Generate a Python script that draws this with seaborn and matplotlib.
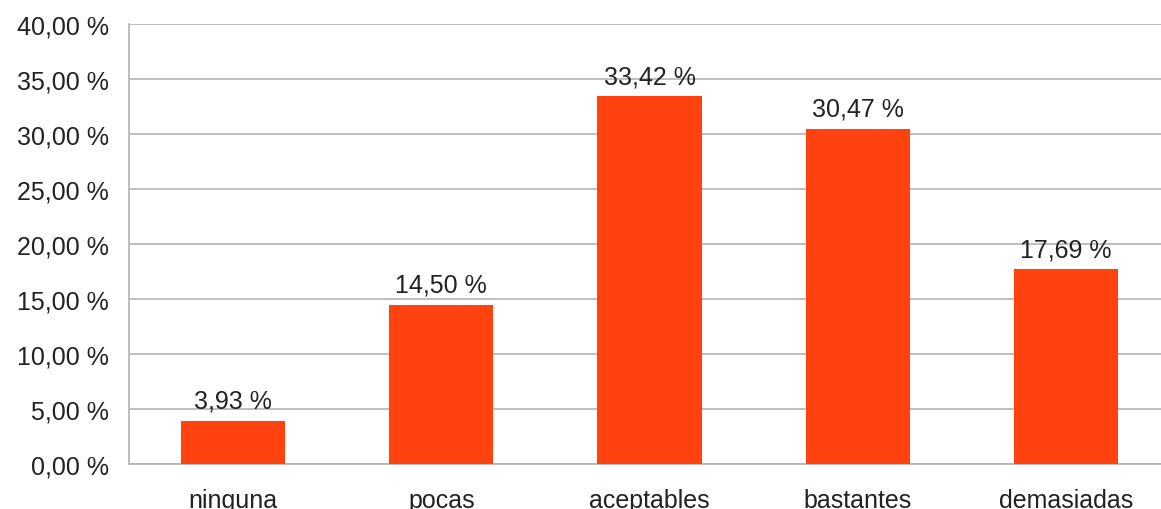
import matplotlib
matplotlib.use("Agg")
import matplotlib.pyplot as plt
import seaborn as sns
import pandas as pd
from matplotlib.ticker import FuncFormatter, FixedLocator

# Datos del gráfico
categorias = ["ninguna", "pocas", "aceptables", "bastantes", "demasiadas"]
porcentajes = [3.93, 14.50, 33.42, 30.47, 17.69]
yticks = [0, 5, 10, 15, 20, 25, 30, 35, 40]

df = pd.DataFrame({"categoria": categorias, "porcentaje": porcentajes})

sns.set_style("white")
plt.rcParams['font.family'] = ['Liberation Sans', 'DejaVu Sans']

fig = plt.figure(figsize=(11.61, 5.10), dpi=100)
ax = fig.add_axes([129/1161, 45/510, (1170-129)/1161, 440/510])

sns.barplot(data=df, x="categoria", y="porcentaje", color="#ff420e",
            width=0.5, saturation=1, ax=ax, zorder=3, linewidth=0)

gris = "#b3b3b3"
ax.set_ylim(0, 40)
ax.set_xlim(-0.5, 4.5)
ax.set_yticks(yticks)
ax.yaxis.set_major_formatter(FuncFormatter(lambda v, p: f"{v:.2f}".replace(".", ",") + " %"))
ax.grid(axis="y", color=gris, linewidth=1.2, zorder=0)
ax.set_axisbelow(True)

for s in ["top", "right"]:
    ax.spines[s].set_visible(False)
for s in ["left", "bottom"]:
    ax.spines[s].set_color(gris)
    ax.spines[s].set_linewidth(1.2)

ax.tick_params(axis="y", length=8.6, width=1.2, color=gris, pad=6,
               labelsize=18, labelcolor="#222222")
ax.tick_params(axis="x", which="major", length=0, pad=17,
               labelsize=18, labelcolor="#222222")
ax.xaxis.set_minor_locator(FixedLocator([-0.5, 0.5, 1.5, 2.5, 3.5, 4.5]))
ax.tick_params(axis="x", which="minor", length=8.6, width=1.2, color=gris)

ax.set_xlabel("")
ax.set_ylabel("")

# Etiquetas de valores
for i, v in enumerate(porcentajes):
    ax.text(i, v + 0.75, f"{v:.2f}".replace(".", ",") + " %", ha="center", va="bottom",
            fontsize=18, color="#222222")

fig.savefig("out.png", dpi=100)
